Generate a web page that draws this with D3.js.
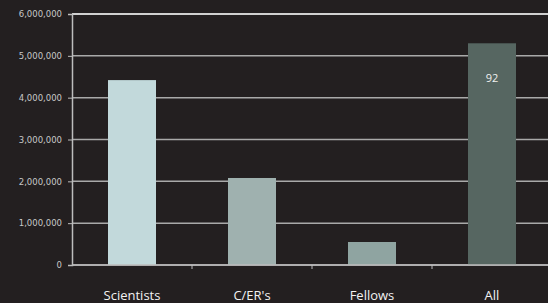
<!DOCTYPE html>
<html>
<head>
<meta charset="utf-8">
<script src="https://cdn.jsdelivr.net/npm/d3@7"></script>
<style>
  body { margin: 0; background: #231f20; }
  svg { display: block; }
</style>
</head>
<body>
<div id="chart"></div>
<script>
const categories = ["Scientists", "C/ER's", "Fellows", "All"];
const values = [4420000, 2080000, 550000, 5300000];
const barColors = ["#c2d9db", "#9fb1af", "#8fa4a1", "#566661"];
const yTicks = [0, 1000000, 2000000, 3000000, 4000000, 5000000, 6000000];
const barLabels = ["", "", "", "92"];

const width = 548,
  height = 303;

const svg = d3.select("#chart")
  .append("svg")
  .attr("width", width)
  .attr("height", height)
  .style("background", "#231f20");

// scales
const x = d3.scaleBand()
  .domain(categories)
  .range([72, 552])
  .paddingInner(0.6)
  .paddingOuter(0.3);

const y = d3.scaleLinear()
  .domain([0, 6000000])
  .range([265, 14]);

// gridlines
svg.append("g")
  .selectAll("line")
  .data(yTicks)
  .join("line")
  .attr("x1", 72)
  .attr("x2", width)
  .attr("y1", d => y(d))
  .attr("y2", d => y(d))
  .attr("stroke", d => d === 6000000 ? "#d0d0d0" : "#a9a9a9")
  .attr("stroke-width", d => d === 6000000 ? 2 : 1.5);

// y axis
const yAxis = svg.append("g")
  .attr("transform", "translate(72,0)")
  .call(d3.axisLeft(y).tickValues(yTicks).tickFormat(d3.format(",")).tickSize(4).tickPadding(6));
yAxis.select(".domain").attr("stroke", "#bdbdbd").attr("stroke-width", 1.5);
yAxis.selectAll(".tick line").attr("stroke", "#bdbdbd");
yAxis.selectAll("text")
  .attr("fill", "#c8c8c8")
  .style("font-family", "'DejaVu Sans', sans-serif")
  .style("font-size", "8.5px");

// bars
svg.append("g")
  .selectAll("rect")
  .data(values)
  .join("rect")
  .attr("x", (d, i) => x(categories[i]))
  .attr("y", d => y(d))
  .attr("width", x.bandwidth())
  .attr("height", d => y(0) - y(d))
  .attr("fill", (d, i) => barColors[i]);

// x axis
const step = x.step();
const xAxis = svg.append("g")
  .attr("transform", "translate(0,265)");
xAxis.append("line")
  .attr("x1", 72)
  .attr("x2", width)
  .attr("stroke", "#bdbdbd")
  .attr("stroke-width", 1.5);
// category dividers sit halfway between bar centres
xAxis.selectAll("line.tick")
  .data(categories.slice(1))
  .join("line")
  .attr("class", "tick")
  .attr("x1", d => x(d) + x.bandwidth() / 2 - step / 2)
  .attr("x2", d => x(d) + x.bandwidth() / 2 - step / 2)
  .attr("y1", 0)
  .attr("y2", 4)
  .attr("stroke", "#bdbdbd");
xAxis.selectAll("text")
  .data(categories)
  .join("text")
  .attr("x", d => x(d) + x.bandwidth() / 2)
  .attr("y", 35)
  .attr("text-anchor", "middle")
  .attr("fill", "#f2f2f2")
  .style("font-family", "'Open Sans', sans-serif")
  .style("font-size", "13px")
  .text(d => d);

// value label
svg.append("g")
  .selectAll("text")
  .data(values)
  .join("text")
  .attr("x", (d, i) => x(categories[i]) + x.bandwidth() / 2)
  .attr("y", d => y(d) + 39)
  .attr("text-anchor", "middle")
  .attr("fill", "#f0f0f0")
  .style("font-family", "'Open Sans', sans-serif")
  .style("font-size", "11px")
  .text((d, i) => barLabels[i]);
</script>
</body>
</html>
